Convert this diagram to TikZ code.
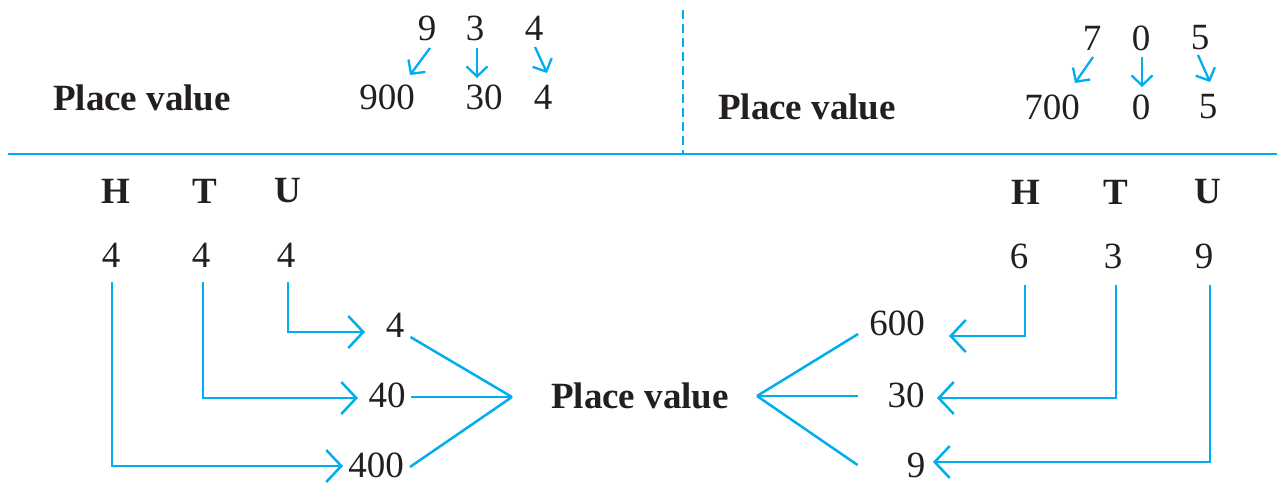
\documentclass[tikz,border=0pt]{standalone}
\usepackage{fontspec}
\setmainfont{Liberation Serif}
\usetikzlibrary{arrows.meta}
\definecolor{cy}{RGB}{0,174,239}
\definecolor{ink}{RGB}{35,31,32}
\begin{document}
\begin{tikzpicture}[x=1pt,y=-1pt,
  txt/.style={inner sep=0pt,text=ink,font=\fontsize{37}{40}\selectfont},
  btxt/.style={inner sep=0pt,text=ink,font=\fontsize{37}{40}\selectfont\bfseries},
  rulel/.style={draw=cy,line width=2.8pt},
  dashl/.style={draw=cy,line width=2.2pt,dash pattern=on 9pt off 5pt},
  conn/.style={draw=cy,line width=2.5pt},
  bigarr/.style={draw=cy,line width=2.5pt,-{Straight Barb[length=15pt,width=32pt]}},
  smarr/.style={draw=cy,line width=2.3pt,-{Straight Barb[length=10pt,width=21pt]}}]
\useasboundingbox (0,0) rectangle (1280,483);

% rules
\coordinate (rl) at (8,154);
\coordinate (rr) at (1277,154);
\coordinate (dt) at (683,10);
\coordinate (db) at (683,154);
\draw[rulel] (rl) -- (rr);
\draw[dashl] (dt) -- (db);

% top left
\node[btxt] (pvl) at (142,98) {Place value};
\node[txt] (d9) at (427,28) {9};
\node[txt] (d3) at (475,28) {3};
\node[txt] (d4) at (534,28) {4};
\node[txt] (v900) at (387,97) {900};
\node[txt] (v30t) at (484,97) {30};
\node[txt] (v4t) at (543,97) {4};
\draw[smarr] ([xshift=3pt,yshift=-20pt]d9.center) -- ([xshift=23pt,yshift=22pt]v900.center);
\draw[smarr] ([xshift=2pt,yshift=-20pt]d3.center) -- ([xshift=-7pt,yshift=19pt]v30t.center);
\draw[smarr] ([xshift=1pt,yshift=-19pt]d4.center) -- ([xshift=4pt,yshift=24pt]v4t.center);

% top right
\node[btxt] (pvr) at (807,107) {Place value};
\node[txt] (d7) at (1092,38) {7};
\node[txt] (d0) at (1141,38) {0};
\node[txt] (d5) at (1200,38) {5};
\node[txt] (v700) at (1052,107) {700};
\node[txt] (v0) at (1141,107) {0};
\node[txt] (v5) at (1208,107) {5};
\draw[smarr] ([xshift=1pt,yshift=-19pt]d7.center) -- ([xshift=23pt,yshift=24pt]v700.center);
\draw[smarr] ([xshift=1pt,yshift=-19pt]d0.center) -- ([xshift=1pt,yshift=20pt]v0.center);
\draw[smarr] ([xshift=-2pt,yshift=-17pt]d5.center) -- ([xshift=2pt,yshift=25pt]v5.center);

% bottom left
\node[btxt] (lHh) at (116,191) {H};
\node[btxt] (lTh) at (205,191) {T};
\node[btxt] (lUh) at (288,191) {U};
\node[txt] (lH) at (111,255) {4};
\node[txt] (lT) at (201,255) {4};
\node[txt] (lU) at (286,255) {4};
\node[txt] (v4) at (395,325) {4};
\node[txt] (v40) at (387,395) {40};
\node[txt] (v400) at (376,465) {400};
\node[btxt] (pvc) at (640,396) {Place value};
\coordinate (t4) at (365,332);
\coordinate (t40) at (358,398);
\coordinate (t400) at (343,466);
\coordinate (cl) at (512,397);
\draw[bigarr] ([xshift=2pt,yshift=-27pt]lU.center) |- (t4);
\draw[bigarr] ([xshift=2pt,yshift=-27pt]lT.center) |- (t40);
\draw[bigarr] ([xshift=1pt,yshift=-27pt]lH.center) |- (t400);
\draw[conn] ([xshift=6pt,yshift=-12pt]v4.east) -- (cl);
\draw[conn] ([xshift=5pt,yshift=-2pt]v40.east) -- (cl);
\draw[conn] ([xshift=6pt,yshift=-2pt]v400.east) -- (cl);

% bottom right
\node[btxt] (rHh) at (1026,192) {H};
\node[btxt] (rTh) at (1116,192) {T};
\node[btxt] (rUh) at (1208,192) {U};
\node[txt] (rH) at (1019,256) {6};
\node[txt] (rT) at (1113,256) {3};
\node[txt] (rU) at (1204,256) {9};
\node[txt] (v600) at (897,323) {600};
\node[txt] (v30) at (906,395) {30};
\node[txt] (v9) at (916,465) {9};
\coordinate (t600) at (949,336);
\coordinate (t30) at (937,398);
\coordinate (t9) at (933,462);
\coordinate (cr) at (757,396);
\draw[bigarr] ([xshift=6pt,yshift=-29pt]rH.center) |- (t600);
\draw[bigarr] ([xshift=3pt,yshift=-29pt]rT.center) |- (t30);
\draw[bigarr] ([xshift=6pt,yshift=-29pt]rU.center) |- (t9);
\draw[conn] (cr) -- ([xshift=-11pt,yshift=-11pt]v600.west);
\draw[conn] (cr) -- ([xshift=-29.5pt,yshift=-1pt]v30.west);
\draw[conn] (cr) -- ([xshift=-49pt]v9.west);
\end{tikzpicture}
\end{document}
